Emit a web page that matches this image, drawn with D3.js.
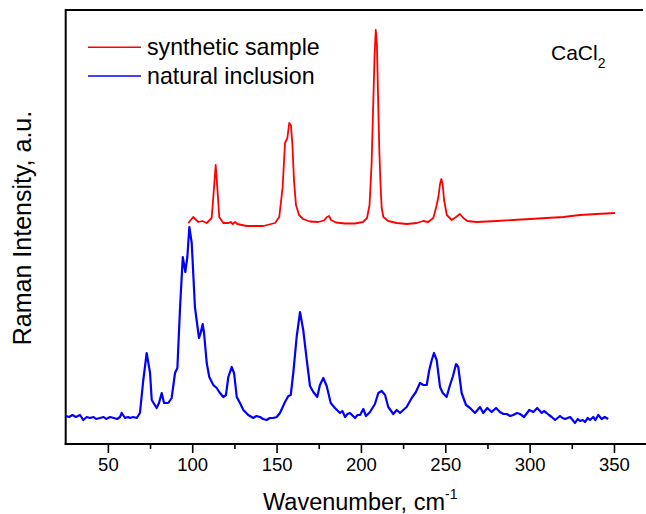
<!DOCTYPE html>
<html>
<head>
<meta charset="utf-8">
<script src="https://cdn.jsdelivr.net/npm/d3@7"></script>
<style>
  html, body { margin: 0; padding: 0; background: #fff; }
  svg { display: block; font-family: "Liberation Sans", Arial, sans-serif; }
</style>
</head>
<body>
<svg id="chart" width="646" height="514"></svg>
<script>
// ---- data (wavenumber, cm-1 / intensity, a.u.) ----
const seriesNames = ["synthetic sample", "natural inclusion"];
const seriesColors = ["#ff0000", "#0000ff"];
const xTicks = [50, 100, 150, 200, 250, 300, 350];
const xMinorTicks = [75, 125, 175, 225, 275, 325];

const syntheticX = [97.7,100.6,103.6,106.0,108.6,111.5,112.5,113.9,115.1,116.0,118.4,121.4,122.8,124.0,125.4,126.7,132.3,142.1,149.1,151.6,153.6,155.0,156.4,157.5,158.5,159.4,160.3,161.5,163.3,165.7,169.8,174.6,178.1,179.9,181.1,182.3,185.2,190.6,196.5,201.2,203.6,205.1,206.3,207.2,208.1,208.8,209.5,210.2,210.9,211.5,212.3,213.3,216.2,221.2,227.1,233.1,237.0,239.9,242.9,244.5,245.9,246.9,247.7,248.5,249.3,250.9,253.8,256.4,258.7,260.7,263.1,268.6,280.5,290.3,300.2,310.1,320.0,329.8,339.8,350.6];
const syntheticY = [221,227,222,223,221,226,247,279,251,227,221,221,222,220,222,220,218,218,221,227,257,301,306,321,319,299,264,239,229,225,222.5,222,223.5,227,228,224,221.5,220.5,220.5,222,226,239,279,334,389,414,399,344,294,264,236,227,223,221,220,221,223,222,226,236,247,260,265,259,244,229,224,227,230,226,223,222,223,224,225,226,227,229,230,231];

const naturalX = [25.2,27.0,29.0,31.0,33.5,35.4,37.5,39.4,41.5,43.0,45.3,47.5,49.0,51.3,53.5,55.5,57.2,58.2,60.2,62.0,63.1,65.0,67.1,69.0,71.0,73.0,75.0,76.0,78.9,80.3,81.9,83.3,85.8,87.8,89.8,91.2,92.8,94.4,95.9,97.1,98.3,99.7,101.6,104.0,105.0,106.2,107.0,108.6,110.1,112.5,114.5,116.0,118.4,120.0,121.4,123.4,124.8,126.4,128.3,130.3,133.2,136.2,138.0,140.2,142.0,144.1,146.0,148.1,150.1,152.0,155.0,157.0,158.4,159.9,161.9,163.9,165.8,167.9,169.8,171.8,174.1,175.7,177.7,179.7,182.1,184.6,187.6,189.0,190.6,192.0,193.5,196.5,198.0,199.5,201.4,203.0,205.4,208.3,210.3,212.3,214.3,216.2,219.2,221.2,223.2,225.1,227.1,230.1,232.6,235.0,237.0,239.0,240.5,242.0,243.3,244.9,246.9,248.5,250.8,252.8,254.4,256.4,257.7,259.7,262.3,264.7,267.6,270.6,272.5,274.9,277.5,280.1,282.4,284.5,286.4,288.5,290.3,292.5,294.3,296.7,299.8,302.2,304.5,307.2,308.5,310.1,311.5,313.1,315.1,318.0,319.5,321.0,322.5,324.0,326.9,328.5,329.9,331.5,332.8,334.5,335.8,337.7,339.0,340.7,342.7,344.5,346.6];
const naturalY = [28,27,29,27,29,24,27,26,27,25,26,27,25,27,26,25,27,31,26,27,26,27,26,31,64,91,71,44,36,41,51,41,41,46,71,76,137,187,172,187,217,201,137,106,111,120,111,81,67,59,56,52,47,49,67,77,71,47,41,34,29,26,28,27,25,24,26,26,27,31,42,48,49,71,107,132,114,84,58,52,47,59,66,58,41,36,31,33,27,30,31,26,29,29,35,28,32,40,51,53,49,37,30,34,31,34,37,46,52,61,59,59,74,84,91,84,57,51,47,59,67,80,77,51,39,36,31,37,31,36,32,36,32,30,30,28,29,31,30,27,34,32,36,31,33,31,29,27,24,28,26,25,26,27,21,25,23,24,22,26,24,27,24,29,25,27,25];

(function () {
const synthetic = syntheticX.map((v, i) => ({x: v, y: syntheticY[i]}));
const natural = naturalX.map((v, i) => ({x: v, y: naturalY[i]}));

// ---- layout ----
const svg = d3.select("#chart");
const pL = 65.7, pR = 643, pT = 10, pB = 444, W = 646;

const x = d3.scaleLinear().domain([25, 25 + (W - pL) / 1.687]).range([pL, W]);
const y = d3.scaleLinear().domain([0, 434]).range([pB, pT]);

// clip
svg.append("clipPath").attr("id", "clip")
  .append("rect").attr("x", pL).attr("y", pT).attr("width", W - pL).attr("height", pB - pT);

// frame lines
svg.append("line").attr("x1", pL).attr("x2", pR).attr("y1", pT).attr("y2", pT)
  .attr("stroke", "#000").attr("stroke-width", 2);
svg.append("line").attr("x1", pL).attr("x2", pL).attr("y1", pT - 1).attr("y2", pB + 1)
  .attr("stroke", "#000").attr("stroke-width", 2);

// x axis
const xAxis = d3.axisBottom(x).tickValues(xTicks).tickSize(9).tickPadding(5).tickFormat(d3.format("d"));
const gx = svg.append("g").attr("transform", `translate(0,${pB})`).call(xAxis);
gx.select(".domain").remove();
gx.append("line").attr("x1", pL - 1).attr("x2", W).attr("y1", 0).attr("y2", 0)
  .attr("stroke", "#000").attr("stroke-width", 2);
gx.selectAll(".tick line").attr("stroke", "#000").attr("stroke-width", 1.6);
gx.selectAll(".tick text").attr("font-size", 18.5).attr("fill", "#000")
  .attr("font-family", "Liberation Sans, Arial, sans-serif");
const minor = d3.axisBottom(x).tickValues(xMinorTicks).tickSize(5).tickFormat("");
const gm = svg.append("g").attr("transform", `translate(0,${pB})`).call(minor);
gm.select(".domain").remove();
gm.selectAll(".tick line").attr("stroke", "#000").attr("stroke-width", 1.6);

// lines
const line = d3.line().x(d => x(d.x)).y(d => y(d.y));
const plot = svg.append("g").attr("clip-path", "url(#clip)");
plot.append("path").datum(natural).attr("d", line)
  .attr("fill", "none").attr("stroke", seriesColors[1]).attr("stroke-width", 2.2).attr("stroke-linejoin", "round");
plot.append("path").datum(synthetic).attr("d", line)
  .attr("fill", "none").attr("stroke", seriesColors[0]).attr("stroke-width", 1.8).attr("stroke-linejoin", "round");

// legend
const legend = svg.append("g");
seriesNames.forEach((name, i) => {
  const ly = 47.3 + i * 28.7;
  legend.append("line").attr("x1", 88).attr("x2", 141).attr("y1", ly).attr("y2", ly)
    .attr("stroke", seriesColors[i]).attr("stroke-width", 1.6);
  legend.append("text").attr("x", 147).attr("y", ly + 7.8).attr("font-size", 23.2)
    .attr("fill", "#000").text(name);
});

// CaCl2 annotation
const ann = svg.append("text").attr("x", 551).attr("y", 60).attr("font-size", 21).attr("fill", "#000");
ann.append("tspan").text("CaCl");
ann.append("tspan").attr("font-size", 14).attr("dy", 8).text("2");

// axis titles
const xt = svg.append("text").attr("x", 263).attr("y", 510).attr("font-size", 23.5).attr("fill", "#000");
xt.append("tspan").text("Wavenumber, cm");
xt.append("tspan").attr("font-size", 14).attr("dy", -11).text("-1");

svg.append("text").attr("transform", "translate(31,228) rotate(-90)")
  .attr("text-anchor", "middle").attr("font-size", 25).attr("fill", "#000")
  .text("Raman Intensity, a.u.");
})();
</script>
</body>
</html>
